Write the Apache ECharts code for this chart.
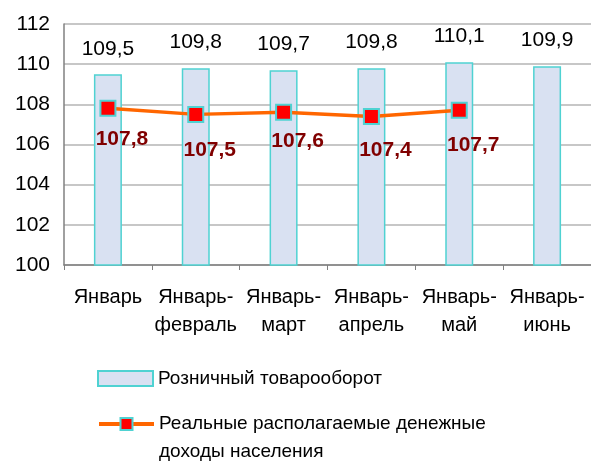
<!DOCTYPE html>
<html>
<head>
<meta charset="utf-8">
<script src="https://cdn.jsdelivr.net/npm/echarts@6/dist/echarts.min.js"></script>
<style>
  html, body { margin: 0; padding: 0; background: #ffffff; }
  #main { width: 591px; height: 462px; }
</style>
</head>
<body>
<div id="main"></div>
<script>
// категории по оси X
var categories = ['Январь', 'Январь-\nфевраль', 'Январь-\nмарт', 'Январь-\nапрель', 'Январь-\nмай', 'Январь-\nиюнь'];
// розничный товарооборот
var retailValues = [109.5, 109.8, 109.7, 109.8, 110.1, 109.9];
// реальные располагаемые денежные доходы (июнь нет данных)
var incomeValues = [107.8, 107.5, 107.6, 107.4, 107.7, null];

var seriesNames = ['Розничный товарооборот', 'Реальные располагаемые денежные\nдоходы населения'];

// сдвиг подписей линии вниз (как в исходнике, подписи стоят вручную)
var labelDy = [30, 35, 28, 33, 34, 0];

var font = 'Liberation Sans, Arial, sans-serif';

function fmt(v) {
  return String(v.toFixed(1)).replace('.', ',');
}

var lineData = incomeValues.map(function (v, i) {
  return {
    value: v,
    label: { offset: [14, labelDy[i] - 32] }
  };
});

var chart = echarts.init(document.getElementById('main'), null, { renderer: 'canvas' });

var option = {
  backgroundColor: '#ffffff',
  animation: false,
  grid: { left: 64, right: 0, top: 24, bottom: 197 },
  legend: [{
    data: [{ name: seriesNames[0], icon: 'rect' }],
    left: 97, top: 369, padding: 0,
    itemWidth: 55, itemHeight: 15,
    textStyle: { fontFamily: font, fontSize: 19, color: '#000000' }
  }, {
    data: [seriesNames[1]],
    left: 97, top: 382, padding: 0,
    itemWidth: 55, itemHeight: 15,
    lineStyle: { width: 4 },
    // пустая первая строка, чтобы значок стоял напротив первой строки текста
    formatter: function (name) { return '\n' + name; },
    textStyle: { fontFamily: font, fontSize: 19, color: '#000000', lineHeight: 28 }
  }],
  xAxis: {
    type: 'category',
    data: categories,
    axisLine: { lineStyle: { color: '#808080', width: 1.5 } },
    axisTick: { show: true, length: 5, lineStyle: { color: '#808080' } },
    axisLabel: {
      fontFamily: font, fontSize: 20, color: '#000000',
      lineHeight: 28, margin: 18, interval: 0
    }
  },
  yAxis: {
    type: 'value',
    min: 100, max: 112, interval: 2,
    axisLine: { show: true, lineStyle: { color: '#808080', width: 1.5 } },
    axisTick: { show: false },
    splitLine: { lineStyle: { color: '#b4b4b4', width: 1.5 } },
    axisLabel: { fontFamily: font, fontSize: 21, color: '#000000', margin: 14 }
  },
  series: [{
    name: seriesNames[0],
    type: 'bar',
    data: retailValues,
    barWidth: 28,
    itemStyle: { color: '#d9e1f2', borderColor: '#4fd2d2', borderWidth: 1.5 },
    label: {
      show: true, position: 'top', distance: 15,
      fontFamily: font, fontSize: 21, color: '#000000',
      formatter: function (p) { return fmt(p.value); }
    }
  }, {
    name: seriesNames[1],
    type: 'line',
    data: lineData,
    symbol: 'rect',
    symbolSize: 15,
    lineStyle: { color: '#ff6600', width: 3.5 },
    itemStyle: { color: '#ff0000', borderColor: '#4fd2d2', borderWidth: 2 },
    label: {
      show: true, position: 'bottom', distance: 14,
      fontFamily: font, fontSize: 21, fontWeight: 'bold', color: '#800000',
      formatter: function (p) { return fmt(p.value); }
    },
    z: 3
  }]
};

chart.setOption(option);
</script>
</body>
</html>
